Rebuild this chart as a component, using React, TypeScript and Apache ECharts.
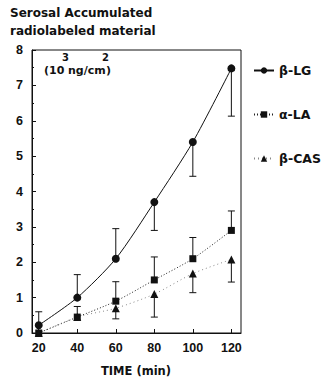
import React, { useEffect, useRef } from "react";
import * as echarts from "echarts";

const times = [20, 40, 60, 80, 100, 120];
const lgValues = [0.22, 1.0, 2.1, 3.7, 5.4, 7.48];
const laValues = [0.0, 0.45, 0.9, 1.5, 2.1, 2.9];
const casValues = [0.0, 0.45, 0.7, 1.1, 1.68, 2.08];
// error bar other ends (one-sided bars)
const lgErrEnd = [0.6, 1.65, 2.95, 2.9, 4.43, 6.13];
const laErrEnd = [null, 0.75, 1.45, 2.15, 2.7, 3.45];
const casErrEnd = [null, null, 0.4, 0.45, 1.14, 1.44];
const xTicks = [20, 40, 60, 80, 100, 120];

const FONT = "Liberation Sans, Arial, sans-serif";
const WIDE = "DejaVu Sans, Verdana, sans-serif";

function errData(vals: number[], ends: (number | null)[]) {
  const out: number[][] = [];
  vals.forEach((v, i) => {
    const e = ends[i];
    if (e !== null && e !== undefined) out.push([times[i], v, e]);
  });
  return out;
}

function errSeries(data: number[][], color: string) {
  return {
    type: "custom",
    silent: true,
    z: 1,
    renderItem: (params: any, api: any) => {
      const x = api.value(0);
      const a = api.coord([x, api.value(1)]);
      const b = api.coord([x, api.value(2)]);
      const cap = 3.5;
      return {
        type: "group",
        children: [
          { type: "line", shape: { x1: a[0], y1: a[1], x2: b[0], y2: b[1] }, style: { stroke: color, lineWidth: 1 } },
          { type: "line", shape: { x1: b[0] - cap, y1: b[1], x2: b[0] + cap, y2: b[1] }, style: { stroke: color, lineWidth: 1 } },
        ],
      };
    },
    data,
  };
}

export default function App() {
  const ref = useRef<HTMLDivElement>(null);
  useEffect(() => {
    const chart = echarts.init(ref.current!, null, { renderer: "svg" });
    chart.setOption({
      animation: false,
      backgroundColor: "#fff",
      textStyle: { fontFamily: FONT, fontWeight: "bold" },
      grid: { left: 32, right: 83, top: 50, bottom: 46, show: true, borderColor: "#111", borderWidth: 1 },
      graphic: [
        { type: "text", left: 10, top: 7, style: { text: "Serosal Accumulated", font: `bold 12px ${WIDE}`, fill: "#111" } },
        { type: "text", left: 10, top: 25, style: { text: "radiolabeled material", font: `bold 12px ${WIDE}`, fill: "#111" } },
        { type: "text", left: 44, top: 65, style: { text: "(10", font: `bold 11px ${WIDE}`, fill: "#111" } },
        { type: "text", left: 68, top: 65, style: { text: "ng/cm", font: `bold 11px ${WIDE}`, fill: "#111" } },
        { type: "text", left: 106, top: 65, style: { text: ")", font: `bold 11px ${WIDE}`, fill: "#111" } },
        { type: "text", left: 62, top: 52, style: { text: "3", font: `bold 10px ${WIDE}`, fill: "#111" } },
        { type: "text", left: 102, top: 52, style: { text: "2", font: `bold 10px ${WIDE}`, fill: "#111" } },
        { type: "text", left: 101, top: 365, style: { text: "TIME (min)", font: `bold 11.5px ${WIDE}`, fill: "#111" } },
      ],
      legend: {
        orient: "vertical",
        left: 248,
        top: 59,
        itemGap: 31,
        itemWidth: 20,
        itemHeight: 8,
        textStyle: { fontFamily: WIDE, fontWeight: "bold", fontSize: 12.5, color: "#111" },
        data: ["β-LG", "α-LA", "β-CAS"],
      },
      xAxis: {
        type: "value",
        min: 16.5,
        max: 125,
        axisLine: { lineStyle: { color: "#111" } },
        axisTick: { inside: true, length: 4, customValues: xTicks, lineStyle: { color: "#111" } },
        axisLabel: { customValues: xTicks, color: "#111", fontWeight: "bold", fontSize: 12.5, fontFamily: FONT, margin: 8 },
        splitLine: { show: false },
      },
      yAxis: {
        type: "value",
        min: 0,
        max: 8,
        interval: 1,
        axisLine: { show: true, lineStyle: { color: "#111" } },
        axisTick: { show: true, inside: true, length: 4, lineStyle: { color: "#111" } },
        minorTick: { show: true, splitNumber: 2, length: 2, lineStyle: { color: "#111" } },
        axisLabel: { color: "#111", fontWeight: "bold", fontSize: 12.5, fontFamily: FONT, margin: 9 },
        splitLine: { show: false },
      },
      series: [
        {
          name: "β-LG",
          type: "line",
          smooth: 0.25,
          symbol: "circle",
          symbolSize: 8,
          itemStyle: { color: "#111" },
          lineStyle: { color: "#111", width: 1 },
          data: times.map((t, i) => [t, lgValues[i]]),
          z: 3,
        },
        {
          name: "α-LA",
          type: "line",
          smooth: 0.25,
          symbol: "rect",
          symbolSize: 7,
          itemStyle: { color: "#111" },
          lineStyle: { color: "#222", width: 1, type: [1, 2] },
          data: times.map((t, i) => [t, laValues[i]]),
          z: 3,
        },
        {
          name: "β-CAS",
          type: "line",
          smooth: 0.25,
          symbol: "triangle",
          symbolSize: 8,
          itemStyle: { color: "#111" },
          lineStyle: { color: "#888", width: 1, type: [1, 3] },
          data: times.map((t, i) => [t, casValues[i]]),
          z: 3,
        },
        errSeries(errData(lgValues, lgErrEnd), "#111"),
        errSeries(errData(laValues, laErrEnd), "#111"),
        errSeries(errData(casValues, casErrEnd), "#111"),
      ],
    });
    return () => chart.dispose();
  }, []);
  return <div ref={ref} style={{ width: 324, height: 379, position: "absolute", left: 0, top: 0 }} />;
}
